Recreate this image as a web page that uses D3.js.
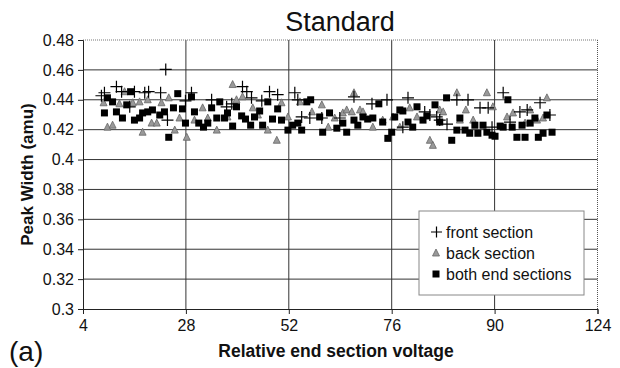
<!DOCTYPE html>
<html><head><meta charset="utf-8">
<script src="https://cdn.jsdelivr.net/npm/d3@7"></script>
<style>body{margin:0;background:#fff}svg{display:block}text{font-family:"Liberation Sans",Arial,sans-serif}</style>
</head><body><svg id="c" width="620" height="368"></svg>
<script>
const title = "Standard";
const xLabel = "Relative end section voltage";
const yLabel = "Peak Width (amu)";
const xTickValues = [4, 28, 52, 76, 100, 124];
const xTickLabels = ["4", "28", "52", "76", "90", "124"];
const yTicks = [0.3, 0.32, 0.34, 0.36, 0.38, 0.4, 0.42, 0.44, 0.46, 0.48];
const seriesNames = ["front section", "back section", "both end sections"];

const frontX = [8.3,9.0,11.8,13.0,14.9,16.0,18.4,19.3,22.1,23.3,23.7,27.9,29.3,34.0,37.5,38.7,41.2,42.2,43.3,45.7,47.5,49.4,53.4,54.1,55.0,56.9,59.7,63.9,67.2,71.4,74.9,78.6,79.8,83.7,84.9,86.5,87.2,88.9,91.2,93.8,96.6,98.5,99.4,102.0,103.6,105.9,107.6,110.6,112.9];
const frontY = [0.4427,0.4447,0.4488,0.4454,0.4353,0.4454,0.4447,0.4454,0.4447,0.4603,0.4264,0.4393,0.4447,0.4400,0.4353,0.4373,0.4488,0.4454,0.4413,0.4393,0.4454,0.4434,0.4447,0.4400,0.4285,0.4278,0.4278,0.4278,0.4420,0.4373,0.4400,0.4217,0.4413,0.4319,0.4298,0.4285,0.4264,0.4237,0.4400,0.4400,0.4346,0.4346,0.4217,0.4447,0.4251,0.4319,0.4332,0.4380,0.4298];

const backX = [8.8,9.7,10.9,12.5,13.7,15.6,17.2,17.9,19.1,20.0,21.2,22.3,24.0,25.4,26.5,28.2,30.0,31.9,33.1,35.2,37.7,38.9,39.8,41.2,43.6,44.8,47.1,49.2,50.3,51.8,54.6,57.4,59.7,61.2,62.7,64.6,65.5,66.7,67.2,68.6,69.3,71.6,73.9,76.3,77.9,80.2,81.9,84.9,85.6,87.2,88.0,91.2,91.9,93.3,95.0,98.2,99.6,102.9,104.3,107.1,108.3,109.9,111.3,112.2];
const backY = [0.4380,0.4217,0.4230,0.4373,0.4454,0.4380,0.4386,0.4183,0.4400,0.4244,0.4244,0.4380,0.4413,0.4197,0.4278,0.4149,0.4264,0.4346,0.4278,0.4197,0.4285,0.4502,0.4400,0.4420,0.4346,0.4298,0.4197,0.4129,0.4380,0.4285,0.4386,0.4319,0.4366,0.4217,0.4278,0.4312,0.4332,0.4319,0.4447,0.4332,0.4319,0.4217,0.4264,0.4285,0.4217,0.4346,0.4285,0.4129,0.4095,0.4332,0.4319,0.4447,0.4264,0.4332,0.4264,0.4447,0.4353,0.4285,0.4312,0.4244,0.4332,0.4264,0.4278,0.4413];

const bothX = [9.0,9.7,10.9,11.8,13.2,14.2,15.1,16.0,17.2,17.9,19.1,20.2,21.9,23.0,24.0,25.1,26.1,27.2,27.9,29.3,30.0,31.0,32.1,33.1,34.0,35.2,35.9,37.0,37.7,38.9,39.8,41.0,41.9,43.1,44.0,45.2,45.9,47.1,48.2,49.4,50.3,51.8,52.9,54.1,55.0,56.2,57.1,59.2,59.9,61.5,63.2,64.6,65.5,67.2,68.1,69.3,70.4,71.6,73.0,73.9,75.1,76.0,76.7,77.9,78.6,79.8,80.9,81.9,83.3,84.2,86.1,87.2,88.8,90.0,91.2,91.9,93.1,94.2,95.4,96.1,97.3,98.2,99.4,100.1,101.3,102.0,103.1,104.1,105.2,106.4,107.1,108.3,109.4,110.2,111.3,112.2,113.4];
const bothY = [0.4312,0.4413,0.4386,0.4319,0.4278,0.4366,0.4454,0.4264,0.4278,0.4312,0.4319,0.4332,0.4298,0.4319,0.4149,0.4346,0.4441,0.4339,0.4244,0.4420,0.4319,0.4244,0.4217,0.4244,0.4346,0.4278,0.4386,0.4278,0.4312,0.4224,0.4353,0.4292,0.4271,0.4230,0.4285,0.4325,0.4230,0.4386,0.4271,0.4339,0.4264,0.4197,0.4230,0.4244,0.4197,0.4386,0.4400,0.4285,0.4183,0.4312,0.4210,0.4244,0.4183,0.4264,0.4230,0.4285,0.4271,0.4278,0.4373,0.4251,0.4142,0.4183,0.4285,0.4332,0.4325,0.4251,0.4217,0.4353,0.4264,0.4292,0.4366,0.4251,0.4413,0.4129,0.4197,0.4278,0.4197,0.4176,0.4230,0.4176,0.4230,0.4183,0.4163,0.4156,0.4224,0.4217,0.4400,0.4217,0.4149,0.4230,0.4149,0.4244,0.4278,0.4149,0.4176,0.4298,0.4183];

const svg = d3.select("#c");
const L = 83, R = 597.5, T = 40, B = 309;
const x = d3.scaleLinear().domain([4, 124]).range([L, R]);
const y = d3.scaleLinear().domain([0.3, 0.48]).range([B, T]);

// gridlines
svg.append("g").selectAll("line").data(yTicks.filter(v => v > 0.3 && v < 0.48)).join("line")
  .attr("x1", L).attr("x2", R).attr("y1", d => y(d)).attr("y2", d => y(d))
  .attr("stroke", "#333").attr("stroke-width", 1);
svg.append("g").selectAll("line").data(xTickValues.filter(v => v > 4 && v < 124)).join("line")
  .attr("x1", d => x(d)).attr("x2", d => x(d)).attr("y1", T).attr("y2", B)
  .attr("stroke", "#333").attr("stroke-width", 1);
// dotted top and right border
svg.append("line").attr("x1", L).attr("x2", R).attr("y1", y(0.48)).attr("y2", y(0.48))
  .attr("stroke", "#777").attr("stroke-dasharray", "1,1");
svg.append("line").attr("x1", R).attr("x2", R).attr("y1", T).attr("y2", B)
  .attr("stroke", "#555").attr("stroke-dasharray", "1,1");

// axes
const xAxis = d3.axisBottom(x).tickValues(xTickValues).tickFormat((d, i) => xTickLabels[i]).tickSizeOuter(0).tickSize(5).tickPadding(6);
const gx = svg.append("g").attr("transform", `translate(0,${B})`).call(xAxis);
const yAxis = d3.axisLeft(y).tickValues(yTicks).tickFormat(d => String(+d.toFixed(2))).tickSizeOuter(0).tickSize(5).tickPadding(4);
const gy = svg.append("g").attr("transform", `translate(${L},0)`).call(yAxis);
[gx, gy].forEach(g => {
  g.selectAll("path,line").attr("stroke", "#222");
  g.selectAll("text").attr("font-size", 16).attr("fill", "#111").style("font-family", "'Liberation Sans',Arial,sans-serif");
});

// marks
const plot = svg.append("g");
const back = backX.map((v, i) => [v, backY[i]]);
const front = frontX.map((v, i) => [v, frontY[i]]);
const both = bothX.map((v, i) => [v, bothY[i]]);
plot.selectAll("path.back").data(back).join("path").attr("class", "back")
  .attr("transform", d => `translate(${x(d[0])},${y(d[1])})`)
  .attr("d", "M0,-4L3.5,3L-3.5,3Z").attr("fill", "#999").attr("stroke", "#666").attr("stroke-width", 0.8);
plot.selectAll("rect.both").data(both).join("rect").attr("class", "both")
  .attr("x", d => x(d[0]) - 3.5).attr("y", d => y(d[1]) - 3.5).attr("width", 7).attr("height", 7).attr("fill", "#000");
plot.selectAll("path.front").data(front).join("path").attr("class", "front")
  .attr("transform", d => `translate(${x(d[0])},${y(d[1])})`)
  .attr("d", "M-6,0H6M0,-6V6").attr("stroke", "#000").attr("stroke-width", 1.2).attr("fill", "none");

// legend
const lg = svg.append("g").attr("transform", "translate(419,211)");
lg.append("rect").attr("width", 165).attr("height", 84).attr("fill", "#fff").attr("stroke", "#888");
const ly = [21, 42, 63];
lg.append("path").attr("d", `M12,${ly[0]}H23M17.5,${ly[0]-5.5}V${ly[0]+5.5}`).attr("stroke", "#000").attr("stroke-width", 1.2);
lg.append("path").attr("transform", `translate(17,${ly[1]})`).attr("d", "M0,-4L3.5,3L-3.5,3Z").attr("fill", "#999").attr("stroke", "#666").attr("stroke-width", 0.8);
lg.append("rect").attr("x", 13.5).attr("y", ly[2] - 3.5).attr("width", 7).attr("height", 7).attr("fill", "#000");
lg.selectAll("text").data(seriesNames).join("text")
  .attr("x", 27).attr("y", (d, i) => ly[i] + 5.5).attr("font-size", 16).attr("fill", "#111").text(d => d);

// titles
svg.append("text").attr("x", 340).attr("y", 31).attr("text-anchor", "middle").attr("font-size", 27).attr("fill", "#111").text(title);
svg.append("text").attr("x", 336).attr("y", 357).attr("text-anchor", "middle").attr("font-size", 17.5).attr("font-weight", "bold").attr("fill", "#111").text(xLabel);
svg.append("text").attr("transform", `translate(33,${(T + B) / 2}) rotate(-90)`).attr("text-anchor", "middle").attr("font-size", 17).attr("font-weight", "bold").attr("fill", "#111").text(yLabel);
svg.append("text").attr("x", 9).attr("y", 361).attr("font-size", 28).attr("fill", "#111").text("(a)");
</script></body></html>
